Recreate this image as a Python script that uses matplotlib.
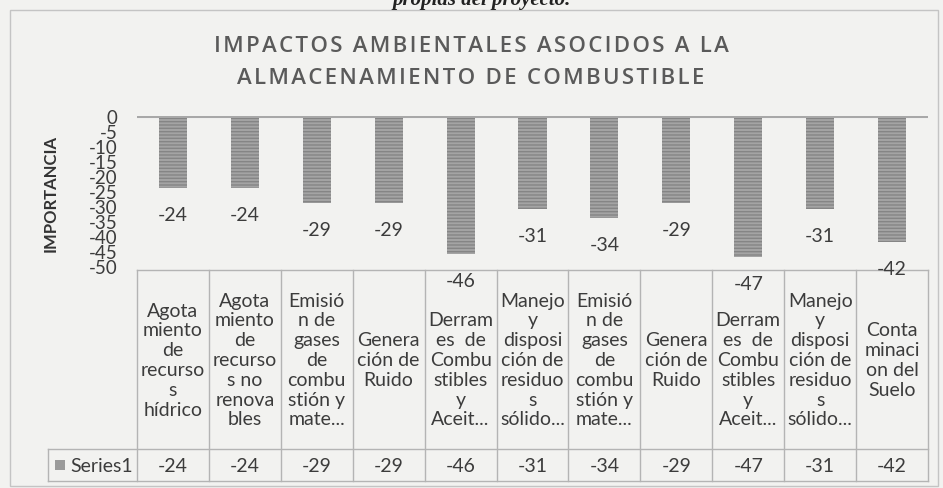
import numpy as np
import matplotlib.pyplot as plt
from matplotlib.patches import Rectangle

# Data
categorias = [
    "Agota\nmiento\nde\nrecurso\ns\nhídrico",
    "Agota\nmiento\nde\nrecurso\ns no\nrenova\nbles",
    "Emisió\nn de\ngases\nde\ncombu\nstión y\nmate...",
    "Genera\nción de\nRuido",
    "\nDerram\nes  de\nCombu\nstibles\ny\nAceit...",
    "Manejo\ny\ndisposi\nción de\nresiduo\ns\nsólido...",
    "Emisió\nn de\ngases\nde\ncombu\nstión y\nmate...",
    "Genera\nción de\nRuido",
    "\nDerram\nes  de\nCombu\nstibles\ny\nAceit...",
    "Manejo\ny\ndisposi\nción de\nresiduo\ns\nsólido...",
    "Conta\nminaci\non del\nSuelo",
]
importancia = [-24, -24, -29, -29, -46, -31, -34, -29, -47, -31, -42]
yticks = list(range(0, -51, -5))
serie = "Series1"
titulo = ["IMPACTOS AMBIENTALES ASOCIDOS A LA", "ALMACENAMIENTO DE COMBUSTIBLE"]

W, H = 943, 489
bg = '#f2f2f0'
txt = '#3c3c3c'
grid = '#b4b4b4'
font = ['Lato', 'DejaVu Sans']

plt.rcParams['font.family'] = font
plt.rcParams['hatch.color'] = '#858585'
plt.rcParams['hatch.linewidth'] = 1.0

fig = plt.figure(figsize=(W / 100, H / 100), dpi=100, facecolor=bg)

# overlay in pixel coordinates for frame, title and table
over = fig.add_axes([0, 0, 1, 1])
over.set_xlim(0, W)
over.set_ylim(H, 0)
over.axis('off')
over.patch.set_alpha(0)

# caption cut off at the top of the scan
over.text(482, 0, "propias del proyecto.", ha='center', va='center',
          family='Liberation Serif', style='italic', weight='bold',
          fontsize=15, color='#222222')

# chart frame
over.add_patch(Rectangle((10, 11), 928, 476, fill=False, ec='#c4c4c4', lw=1))

# title
for k, line in enumerate(titulo):
    over.text(471, 46 + 33 * k, '\u200a'.join(line), ha='center', va='center',
              family=['Open Sans', 'DejaVu Sans'], weight='semibold',
              fontsize=16, color='#5a5a5a')

# y axis label
over.text(51, 193, "IMPORTANCIA", rotation=90, ha='center', va='center',
          fontsize=12, weight='bold', color='#333333')

# bar plot
left, right, top, bottom = 137, 928, 117, 267
ax = fig.add_axes([left / W, 1 - bottom / H, (right - left) / W, (bottom - top) / H])
ax.patch.set_alpha(0)
x = np.arange(len(importancia))
ax.bar(x, importancia, width=0.39, color='#a4a4a4', edgecolor='#858585',
       hatch='-----', linewidth=0, zorder=2)
ax.axhline(0, color='#a8a8a8', lw=2.2, zorder=3)
ax.set_xlim(-0.5, len(importancia) - 0.5)
ax.set_ylim(-50, 0)
ax.set_xticks([])
ax.set_yticks(yticks)
ax.set_yticklabels([str(t) for t in yticks], fontsize=13.5, color=txt)
ax.tick_params(axis='y', length=0, pad=14)
for s in ax.spines.values():
    s.set_visible(False)
for i, v in enumerate(importancia):
    ax.annotate(str(v), (i, v), xytext=(0, -19), textcoords='offset points',
                ha='center', va='center', fontsize=14, color=txt,
                annotation_clip=False, zorder=5)

# data table
colw = (right - left) / len(importancia)
t_top, t_mid, t_bot = 271, 450, 482
key_left = 48
edges = [left + i * colw for i in range(len(importancia) + 1)]
over.plot([left, right], [t_top, t_top], color=grid, lw=1)
over.plot([key_left, right], [t_mid, t_mid], color=grid, lw=1)
over.plot([key_left, right], [t_bot, t_bot], color=grid, lw=1)
over.plot([key_left, key_left], [t_mid, t_bot], color=grid, lw=1)
for e in edges:
    over.plot([e, e], [t_top, t_bot], color=grid, lw=1)
for i, (c, v) in enumerate(zip(categorias, importancia)):
    cx = left + (i + 0.5) * colw
    over.text(cx, (t_top + t_mid) / 2, c, ha='center', va='center',
              fontsize=14, color=txt, linespacing=1.2, multialignment='center')
    over.text(cx, (t_mid + t_bot) / 2, str(v), ha='center', va='center',
              fontsize=14, color=txt)
over.add_patch(Rectangle((55, 461), 10, 10, color='#9a9a9a', lw=0))
over.text(70, (t_mid + t_bot) / 2, serie, ha='left', va='center',
          fontsize=14, color=txt)

fig.savefig('out.png', dpi=100, facecolor=bg)
